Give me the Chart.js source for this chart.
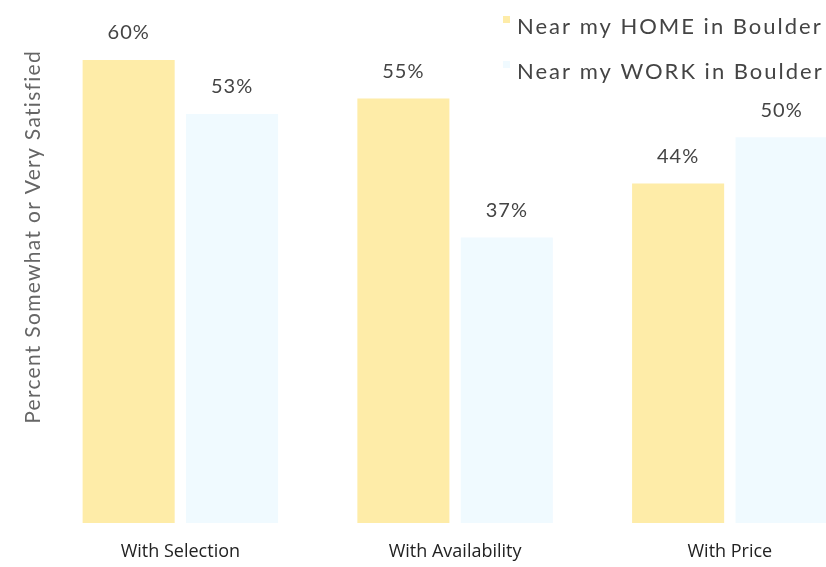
<!DOCTYPE html>
<html><head><meta charset="utf-8">
<script src="https://cdn.jsdelivr.net/npm/chart.js@4.4.1/dist/chart.umd.min.js"></script>
<style>html,body{margin:0;padding:0;background:#fff;overflow:hidden}#wrap{width:826px;height:567px}</style>
</head><body><div id="wrap"><canvas id="c" width="826" height="567"></canvas></div>
<script>
const categories = ['With Selection', 'With Availability', 'With Price'];
const seriesNames = ['Near my HOME in Boulder', 'Near my WORK in Boulder'];
const homeValues = [60, 55, 44];
const workValues = [53, 37, 50];
const yAxisTitle = 'Percent Somewhat or Very Satisfied';

const colors = ['rgb(254,236,168)', 'rgb(240,250,255)'];
const toPoints = vals => vals.map((v, i) => ({ x: i, y: v }));

const legendPlugin = {
  id: 'customLegend',
  afterDraw(chart) {
    const ctx = chart.ctx;
    ctx.save();
    chart.data.datasets.forEach((ds, i) => {
      const y = 27 + i * 45;
      ctx.fillStyle = ds.backgroundColor;
      ctx.fillRect(503, y - 11, 7, 7);
      ctx.fillStyle = '#444';
      ctx.font = '22px Lato';
      ctx.letterSpacing = '2px';
      ctx.textBaseline = 'middle';
      ctx.textAlign = 'left';
      ctx.fillText(ds.label, 517, y);
    });
    ctx.restore();
  }
};

const yTitlePlugin = {
  id: 'yTitle',
  afterDraw(chart) {
    const ctx = chart.ctx;
    ctx.save();
    ctx.translate(33, chart.chartArea.top);
    ctx.rotate(-Math.PI / 2);
    ctx.font = '21px Lato';
    ctx.letterSpacing = '1.3px';
    ctx.fillStyle = '#666';
    ctx.textAlign = 'right';
    ctx.textBaseline = 'middle';
    ctx.fillText(yAxisTitle, 0, 0);
    ctx.restore();
  }
};

const valueLabelPlugin = {
  id: 'valueLabels',
  afterDatasetsDraw(chart) {
    const ctx = chart.ctx;
    ctx.save();
    ctx.font = '20px Lato';
    ctx.letterSpacing = '1px';
    ctx.fillStyle = '#444';
    ctx.textAlign = 'center';
    ctx.textBaseline = 'middle';
    chart.data.datasets.forEach((ds, di) => {
      chart.getDatasetMeta(di).data.forEach((el, i) => {
        ctx.fillText(ds.data[i].y + '%', el.x, el.y - 27);
      });
    });
    ctx.restore();
  }
};

new Chart(document.getElementById('c'), {
  type: 'bar',
  data: {
    datasets: [
      { label: seriesNames[0], data: toPoints(homeValues), backgroundColor: colors[0], borderWidth: 0 },
      { label: seriesNames[1], data: toPoints(workValues), backgroundColor: colors[1], borderWidth: 0 }
    ]
  },
  options: {
    responsive: false,
    animation: false,
    devicePixelRatio: 1,
    categoryPercentage: 0.753,
    barPercentage: 0.89,
    layout: { padding: { top: 50, right: 0, bottom: 5, left: 43 } },
    plugins: { legend: { display: false }, tooltip: { enabled: false } },
    scales: {
      x: {
        type: 'linear', min: -0.5, max: 2.35, offset: false,
        grid: { display: false, drawTicks: false, offset: false }, border: { display: false },
        afterBuildTicks: axis => { axis.ticks = categories.map((c, i) => ({ value: i })); },
        afterFit: axis => { axis.paddingLeft = 0; axis.paddingRight = 0; axis.height = 39; },
        ticks: {
          callback: v => categories[v] ?? '',
          font: { family: 'Open Sans', size: 18 }, color: '#222', padding: 18,
          autoSkip: false, maxRotation: 0
        }
      },
      y: {
        min: 0, max: 61.3, display: false
      }
    }
  },
  plugins: [legendPlugin, valueLabelPlugin, yTitlePlugin]
});
</script></body></html>
